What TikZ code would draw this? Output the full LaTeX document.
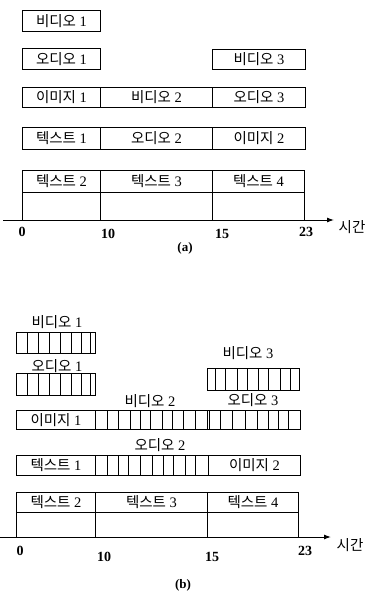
\documentclass[tikz,border=0pt]{standalone}
\usepackage{fontspec}
\setmainfont{Liberation Serif}
\newfontfamily\kr{Noto Sans CJK KR}
\usetikzlibrary{arrows.meta}
\newcommand\kt[1]{{\kr #1}}
\begin{document}
\begin{tikzpicture}[x=1pt,y=-1pt,
  line width=0.9pt,
  cellbox/.style={draw, anchor=north west, inner sep=0pt, font=\fontsize{14.5}{14.5}\selectfont},
  lab/.style={inner sep=0pt, font=\fontsize{14.5}{14.5}\selectfont},
  num/.style={inner sep=0pt, font=\fontsize{14}{14}\selectfont\bfseries},
  captxt/.style={inner sep=0pt, font=\fontsize{13}{13}\selectfont\bfseries},
  axis/.style={-{Latex[length=7pt,width=5pt]}, line width=1pt}]
\useasboundingbox (0,0) rectangle (371,604);

% ---------------- (a) ----------------
\node[cellbox, minimum width=78pt, minimum height=21pt] (a-v1) at (22,10) {\kt{비디오} 1};
\node[cellbox, minimum width=78pt, minimum height=21pt] (a-a1) at (22,48) {\kt{오디오} 1};
\node[cellbox, minimum width=93pt, minimum height=20pt] (a-v3) at (212,49) {\kt{비디오} 3};

\node[cellbox, minimum width=78pt, minimum height=20pt] (a-i1) at (22,87) {\kt{이미지} 1};
\node[cellbox, minimum width=112pt, minimum height=20pt] (a-v2) at (100,87) {\kt{비디오} 2};
\node[cellbox, minimum width=93pt, minimum height=20pt] (a-a3) at (212,87) {\kt{오디오} 3};

\node[cellbox, minimum width=78pt, minimum height=22pt] (a-t1) at (22,127) {\kt{텍스트} 1};
\node[cellbox, minimum width=112pt, minimum height=22pt] (a-a2) at (100,127) {\kt{오디오} 2};
\node[cellbox, minimum width=93pt, minimum height=22pt] (a-i2) at (212,127) {\kt{이미지} 2};

\node[cellbox, minimum width=78pt, minimum height=22pt] (a-t2) at (22,170) {\kt{텍스트} 2};
\node[cellbox, minimum width=112pt, minimum height=22pt] (a-t3) at (100,170) {\kt{텍스트} 3};
\node[cellbox, minimum width=92pt, minimum height=22pt] (a-t4) at (212,170) {\kt{텍스트} 4};
\node[cellbox, minimum width=78pt, minimum height=28pt] (a-e1) at (22,192) {};
\node[cellbox, minimum width=112pt, minimum height=28pt] (a-e2) at (100,192) {};
\node[cellbox, minimum width=92pt, minimum height=28pt] (a-e3) at (212,192) {};

\coordinate (a-s) at (3,220);
\coordinate (a-e) at (334,220);
\draw[axis] (a-s) -- (a-e);

\node[num] (a-n0) at (22,232) {0};
\node[num] (a-n10) at (108,234) {10};
\node[num] (a-n15) at (222,234) {15};
\node[num] (a-n23) at (306,232) {23};
\node[lab] (a-time) at (352,227) {\kt{시간}};
\node[captxt] (a-cap) at (185,248) {(a)};

% ---------------- (b) ----------------
\node[lab] (b-v1l) at (57,322) {\kt{비디오} 1};
\node[cellbox, minimum width=79pt, minimum height=21pt] (b-v1) at (16,332) {};
\foreach \x in {27,38,49,60,71,81,90} \draw (\x,332) -- (\x,353);

\node[lab] (b-a1l) at (57,366) {\kt{오디오} 1};
\node[cellbox, minimum width=79pt, minimum height=22pt] (b-a1) at (16,373) {};
\foreach \x in {27,38,49,60,71,81,90} \draw (\x,373) -- (\x,395);

\node[lab] (b-v3l) at (248,353) {\kt{비디오} 3};
\node[cellbox, minimum width=92pt, minimum height=22pt] (b-v3) at (207,368) {};
\foreach \x in {215,225,237,247,258,268,280,290} \draw (\x,368) -- (\x,390);

\node[lab] (b-v2l) at (150,401) {\kt{비디오} 2};
\node[lab] (b-a3l) at (253,400) {\kt{오디오} 3};
\node[cellbox, minimum width=79pt, minimum height=19pt] (b-i1) at (16,410) {\kt{이미지} 1};
\node[cellbox, minimum width=205pt, minimum height=19pt] (b-seg3) at (95,410) {};
\foreach \x in {107,118,130,140,150,162,172,183,195,207,209,220,232,245,257,268,278,288} \draw (\x,410) -- (\x,429);

\node[lab] (b-a2l) at (160,445) {\kt{오디오} 2};
\node[cellbox, minimum width=79pt, minimum height=20pt] (b-t1) at (16,455) {\kt{텍스트} 1};
\node[cellbox, minimum width=113pt, minimum height=20pt] (b-seg4) at (95,455) {};
\foreach \x in {107,118,128,140,152,163,173,185,195} \draw (\x,455) -- (\x,475);
\node[cellbox, minimum width=92pt, minimum height=20pt] (b-i2) at (208,455) {\kt{이미지} 2};

\node[cellbox, minimum width=79pt, minimum height=20pt] (b-t2) at (16,492) {\kt{텍스트} 2};
\node[cellbox, minimum width=112pt, minimum height=20pt] (b-t3) at (95,492) {\kt{텍스트} 3};
\node[cellbox, minimum width=91pt, minimum height=20pt] (b-t4) at (207,492) {\kt{텍스트} 4};
\node[cellbox, minimum width=79pt, minimum height=25pt] (b-e1) at (16,512) {};
\node[cellbox, minimum width=112pt, minimum height=25pt] (b-e2) at (95,512) {};
\node[cellbox, minimum width=91pt, minimum height=25pt] (b-e3) at (207,512) {};

\coordinate (b-s) at (0,537);
\coordinate (b-e) at (331,537);
\draw[axis] (b-s) -- (b-e);

\node[num] (b-n0) at (20,551) {0};
\node[num] (b-n10) at (104,557) {10};
\node[num] (b-n15) at (212,557) {15};
\node[num] (b-n23) at (305,551) {23};
\node[lab] (b-time) at (350,545) {\kt{시간}};
\node[captxt] (b-cap) at (183,585) {(b)};
\end{tikzpicture}
\end{document}
